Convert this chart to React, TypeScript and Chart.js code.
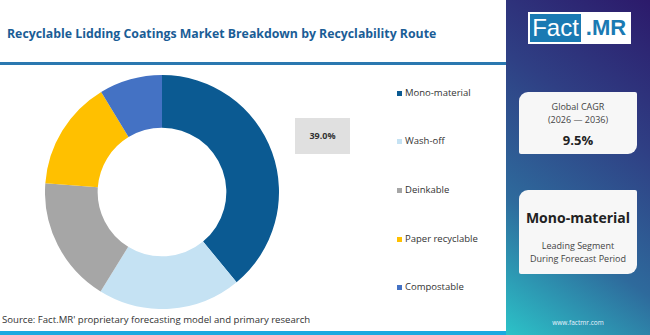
import React, { useEffect, useRef } from "react";
import { Chart, registerables } from "chart.js";

Chart.register(...registerables);

// Market share by recyclability route (%)
const categories = ["Mono-material", "Wash-off", "Deinkable", "Paper recyclable", "Compostable"];
const shares = [39.0, 19.8, 17.4, 15.1, 8.7];
const sliceColors = ["#0b5a92", "#c5e2f3", "#a6a6a6", "#ffc000", "#4472c4"];

const titleText = "Recyclable Lidding Coatings Market Breakdown by Recyclability Route";
const sourceText = "Source: Fact.MR' proprietary forecasting model and primary research";
const cagrLabel = ["Global CAGR", "(2026 \u2014 2036)"];
const cagrValue = "9.5%";
const leadingSegment = "Mono-material";
const leadingLabel = ["Leading Segment", "During Forecast Period"];
const siteText = "www.factmr.com";

const FONT = "'Open Sans', 'Noto Sans', sans-serif";

function Donut() {
  const ref = useRef<HTMLCanvasElement>(null);
  useEffect(() => {
    if (!ref.current) return;
    const chart = new Chart(ref.current, {
      type: "doughnut",
      data: {
        labels: categories,
        datasets: [
          {
            data: shares,
            backgroundColor: sliceColors,
            borderWidth: 0,
          },
        ],
      },
      options: {
        responsive: false,
        maintainAspectRatio: false,
        animation: false,
        cutout: "55%",
        layout: { padding: 0 },
        plugins: {
          legend: { display: false },
          tooltip: { enabled: false },
        },
      },
    });
    return () => chart.destroy();
  }, []);
  return (
    <canvas
      ref={ref}
      width={234}
      height={234}
      style={{ position: "absolute", left: 45, top: 75, width: 234, height: 234 }}
    />
  );
}

export default function App() {
  const legendTops = [93, 141, 190, 239, 287];
  return (
    <div
      style={{
        position: "fixed",
        left: 0,
        top: 0,
        width: 650,
        height: 335,
        background: "#ffffff",
        overflow: "hidden",
        fontFamily: FONT,
      }}
    >
      {/* title */}
      <div
        style={{
          position: "absolute",
          left: 7,
          top: 24,
          height: 20,
          lineHeight: "20px",
          fontSize: 12.3,
          fontWeight: 700,
          color: "#1a5d96",
          whiteSpace: "nowrap",
        }}
      >
        {titleText}
      </div>
      {/* rule under title */}
      <div style={{ position: "absolute", left: 0, top: 62, width: 506, height: 3, background: "#2a78b0" }} />

      <Donut />

      {/* value callout for the leading slice */}
      <div
        style={{
          position: "absolute",
          left: 295,
          top: 118,
          width: 55,
          height: 36,
          background: "#e0e0e0",
          lineHeight: "36px",
          textAlign: "center",
          fontSize: 9,
          fontWeight: 700,
          color: "#333",
        }}
      >
        {shares[0].toFixed(1)}%
      </div>

      {/* legend */}
      {categories.map((c, i) => (
        <div key={c} style={{ position: "absolute", left: 397, top: legendTops[i] - 7, height: 14 }}>
          <div
            style={{
              position: "absolute",
              left: 0,
              top: 4.5,
              width: 5,
              height: 5,
              background: sliceColors[i],
            }}
          />
          <div
            style={{
              position: "absolute",
              left: 8,
              top: 0,
              lineHeight: "14px",
              fontSize: 9.5,
              color: "#333",
              whiteSpace: "nowrap",
            }}
          >
            {c}
          </div>
        </div>
      ))}

      {/* source */}
      <div
        style={{
          position: "absolute",
          left: 2,
          top: 313,
          lineHeight: "14px",
          fontSize: 9.6,
          color: "#333",
          whiteSpace: "nowrap",
        }}
      >
        {sourceText}
      </div>
      <div style={{ position: "absolute", left: 0, top: 331, width: 506, height: 4, background: "#1aa9e0" }} />

      {/* side panel */}
      <div
        style={{
          position: "absolute",
          left: 506,
          top: 0,
          width: 144,
          height: 335,
          background: "linear-gradient(215deg, #2c1a6b 0%, #2f3f84 35%, #2e6a9c 68%, #2cc3c8 100%)",
        }}
      >
        {/* logo */}
        <div
          style={{
            position: "absolute",
            left: 22,
            top: 12,
            width: 103,
            height: 32,
            background: "#ffffff",
          }}
        >
          <div
            style={{
              position: "absolute",
              left: 2,
              top: 2,
              width: 51,
              height: 28,
              background: "#1a7ab3",
              color: "#fff",
              fontFamily: "'Liberation Sans', Arial, sans-serif",
              fontSize: 24,
              lineHeight: "28px",
              textAlign: "center",
            }}
          >
            Fact
          </div>
          <div
            style={{
              position: "absolute",
              left: 55,
              top: 2,
              width: 46,
              height: 28,
              color: "#1a7ab3",
              fontFamily: "'Liberation Sans', Arial, sans-serif",
              fontWeight: 700,
              fontSize: 22,
              lineHeight: "28px",
              textAlign: "center",
            }}
          >
            .MR
          </div>
        </div>

        {/* CAGR card */}
        <div
          style={{
            position: "absolute",
            left: 13,
            top: 92,
            width: 118,
            height: 62,
            background: "#f7f7f7",
            borderRadius: "9px 2px 9px 2px",
            textAlign: "center",
            color: "#444",
          }}
        >
          <div style={{ position: "absolute", left: 0, right: 0, top: 8, lineHeight: "13px", fontSize: 9 }}>
            {cagrLabel[0]}
          </div>
          <div style={{ position: "absolute", left: 0, right: 0, top: 21, lineHeight: "13px", fontSize: 9 }}>
            {cagrLabel[1]}
          </div>
          <div
            style={{
              position: "absolute",
              left: 0,
              right: 0,
              top: 39,
              lineHeight: "18px",
              fontSize: 13,
              fontWeight: 700,
              color: "#222",
            }}
          >
            {cagrValue}
          </div>
        </div>

        {/* leading segment card */}
        <div
          style={{
            position: "absolute",
            left: 13,
            top: 190,
            width: 118,
            height: 84,
            background: "#f7f7f7",
            borderRadius: "9px 2px 9px 2px",
            textAlign: "center",
            color: "#444",
          }}
        >
          <div
            style={{
              position: "absolute",
              left: 0,
              right: 0,
              top: 18,
              lineHeight: "20px",
              fontSize: 14,
              fontWeight: 700,
              color: "#222",
            }}
          >
            {leadingSegment}
          </div>
          <div style={{ position: "absolute", left: 0, right: 0, top: 49, lineHeight: "13px", fontSize: 9 }}>
            {leadingLabel[0]}
          </div>
          <div style={{ position: "absolute", left: 0, right: 0, top: 62, lineHeight: "13px", fontSize: 9 }}>
            {leadingLabel[1]}
          </div>
        </div>

        <div
          style={{
            position: "absolute",
            left: 0,
            right: 0,
            top: 318,
            lineHeight: "10px",
            fontSize: 6.5,
            color: "#e8f4ff",
            textAlign: "center",
          }}
        >
          {siteText}
        </div>
      </div>
    </div>
  );
}
